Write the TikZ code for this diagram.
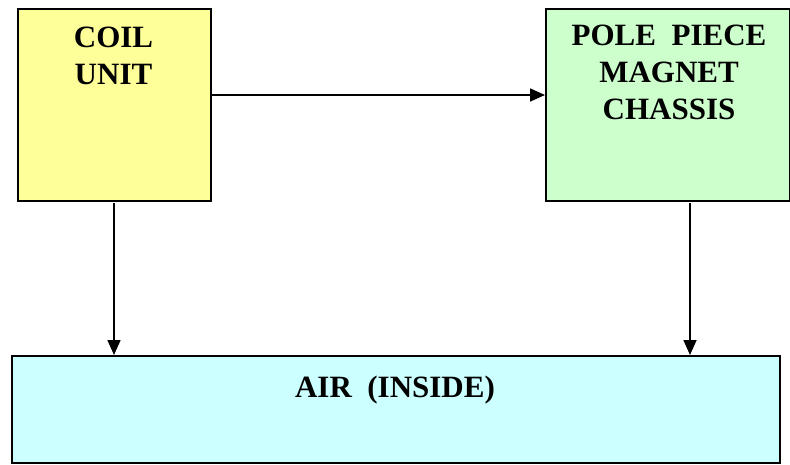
\documentclass[tikz,border=0pt]{standalone}
\usepackage{fontspec}
\setmainfont{Liberation Serif}
\usetikzlibrary{arrows.meta}
\definecolor{coilyellow}{HTML}{FFFF99}
\definecolor{polegreen}{HTML}{CCFFCC}
\definecolor{aircyan}{HTML}{CCFFFF}
\tikzset{
  blockbox/.style={draw=black, line width=1.8pt, inner sep=0pt, anchor=north west},
  blocktext/.style={font=\fontsize{31}{37}\selectfont\bfseries, align=center, inner sep=0pt, anchor=north, text=black},
  flowarrow/.style={line width=1.6pt, -{Triangle[length=15pt, width=13pt]}}
}
\begin{document}
\begin{tikzpicture}[x=1pt,y=-1pt]
\useasboundingbox (0,0) rectangle (790,464);
\node[blockbox, fill=coilyellow, minimum width=193pt, minimum height=192pt] (coil) at (17,8) {};
\node[blockbox, fill=polegreen, minimum width=244pt, minimum height=192pt] (pole) at (545,8) {};
\node[blockbox, fill=aircyan, minimum width=768pt, minimum height=107pt] (air) at (11,355) {};
\node[blocktext] (coiltext) at (113.5,27) {COIL\\UNIT};
\node[blocktext] (poletext) at (669,25) {POLE\ \ PIECE\\MAGNET\\CHASSIS};
\node[blocktext] (airtext) at (395,376) {AIR\ \ (INSIDE)};
\coordinate (coilbot) at (114,203);
\coordinate (polebot) at (690,203);
\draw[flowarrow] (coil.east |- 0,95) -- (pole.west |- 0,95);
\draw[flowarrow] (coilbot) -- (coilbot |- air.north);
\draw[flowarrow] (polebot) -- (polebot |- air.north);
\end{tikzpicture}
\end{document}
